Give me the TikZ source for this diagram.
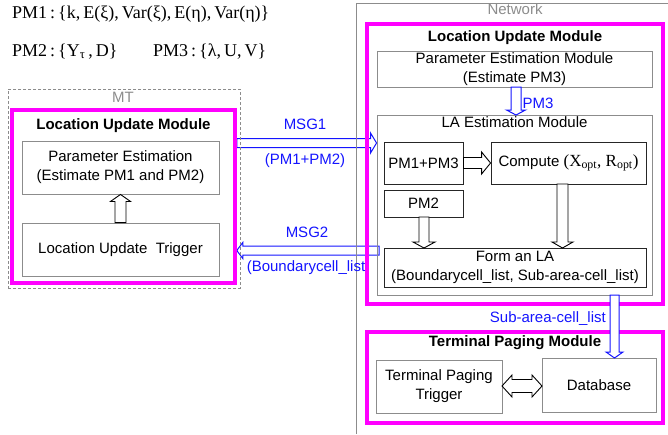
\documentclass[tikz,border=0pt]{standalone}
\usepackage{fontspec}
\setmainfont{Liberation Serif}
\setsansfont{Liberation Sans}
\usetikzlibrary{calc,backgrounds}
\definecolor{boxgray}{RGB}{140,140,140}
\definecolor{lblue}{RGB}{20,20,255}
\definecolor{mag}{RGB}{255,0,255}

\newcommand{\blockarrow}[6]{%
 \coordinate (bahd) at ($(#3)!#6!(#2)$);
 \draw[#1] ($(#2)!#4!90:(#3)$) -- ($(bahd)!#4!90:(#3)$) -- ($(bahd)!#5!90:(#3)$) -- (#3) -- ($(bahd)!#5!-90:(#3)$) -- ($(bahd)!#4!-90:(#3)$) -- ($(#2)!#4!-90:(#3)$) -- cycle;}
\newcommand{\dblockarrow}[6]{%
 \coordinate (bha) at ($(#2)!#6!(#3)$);
 \coordinate (bhb) at ($(#3)!#6!(#2)$);
 \draw[#1] (#2) -- ($(bha)!#5!90:(#3)$) -- ($(bha)!#4!90:(#3)$) -- ($(bhb)!#4!90:(#3)$) -- ($(bhb)!#5!90:(#3)$) -- (#3) -- ($(bhb)!#5!-90:(#3)$) -- ($(bhb)!#4!-90:(#3)$) -- ($(bha)!#4!-90:(#3)$) -- ($(bha)!#5!-90:(#3)$) -- cycle;}

\tikzset{
 every node/.style={font=\sffamily\fontsize{15}{19}\selectfont, inner sep=0pt},
 graybox/.style={draw=boxgray, line width=0.9pt, align=center},
 blackbox/.style={draw=black!85, line width=0.9pt, align=center},
 magbox/.style={draw=mag, line width=3.5pt},
 ttl/.style={font=\sffamily\bfseries\fontsize{15}{19}\selectfont},
 graytxt/.style={text=boxgray},
 bluetxt/.style={text=lblue},
 harrow/.style={draw=black, fill=white, line width=0.9pt},
 barrow/.style={draw=lblue, fill=white, line width=1pt},
 toptxt/.style={anchor=base west, font=\rmfamily\fontsize{18}{20}\selectfont},
}

\begin{document}
\begin{tikzpicture}[x=1pt,y=-1pt]
\useasboundingbox (0,0) rectangle (668,434);

% top definitions
\node[toptxt] (pm1def) at (12,18.3) {PM1\,:\,\{k,\,E(ξ),\,Var(ξ),\,E(η),\,Var(η)\}};
\node[toptxt] (pm2def) at (12,56) {PM2\,:\,\{Y\textsubscript{τ}\,,\,D\}};
\node[toptxt] (pm3def) at (153,56) {PM3\,:\,\{λ,\,U,\,V\}};

% MT side
\node[draw=boxgray, dashed, dash pattern=on 3pt off 2pt, line width=0.8pt, minimum width=232pt, minimum height=199pt] (mt) at (124,188.5) {};
\node[graytxt] (mtlbl) at (123,97) {MT};
\node[magbox, minimum width=223pt, minimum height=173pt] (mtlum) at (123.5,196.5) {};
\node[ttl] (mtlumlbl) at (123.5,126) {Location Update Module};
\node[graybox, minimum width=197pt, minimum height=53pt] (mtpe) at (120.5,167.5) {Parameter Estimation\\(Estimate PM1 and PM2)};
\node[graybox, minimum width=197pt, minimum height=53pt] (mttrig) at (120.5,249.5) {Location Update\ \ Trigger};

% Network side
\draw[draw=boxgray, line width=0.9pt] (668,3) -- (356,3) -- (356,434);
\node[graytxt] (netlbl) at (515,9) {Network};
\node[magbox, minimum width=296pt, minimum height=280pt] (netlum) at (515,164) {};
\node[ttl] (netlumlbl) at (515,37.5) {Location Update Module};
\node[graybox, minimum width=275pt, minimum height=36pt] (pem) at (514.5,69) {Parameter Estimation Module\\(Estimate PM3)};
\node[graybox, minimum width=275pt, minimum height=180pt] (la) at (514.5,205) {};
\node (lalbl) at (514.5,122.5) {LA Estimation Module};
\node[blackbox, minimum width=79pt, minimum height=42pt] (pm13) at (423.5,163) {PM1+PM3};
\node[blackbox, minimum width=155pt, minimum height=42pt] (comp) at (568.5,163) {Compute {\rmfamily\fontsize{17}{19}\selectfont (X\textsubscript{opt}, R\textsubscript{opt})}};
\node[blackbox, minimum width=79pt, minimum height=27pt] (pm2) at (423.5,203.5) {PM2};
\node[blackbox, minimum width=262pt, minimum height=39pt] (form) at (515,267.5) {Form an LA\\(Boundarycell\_list, Sub-area-cell\_list)};

\node[magbox, minimum width=296pt, minimum height=91pt] (tpm) at (515,377.5) {};
\node[ttl] (tpmlbl) at (515,343) {Terminal Paging Module};
\node[graybox, minimum width=126pt, minimum height=53pt] (tpt) at (439,386.5) {Terminal Paging\\Trigger};
\node[graybox, minimum width=114pt, minimum height=54pt] (db) at (599,385) {Database};

% coordinates for connectors
\coordinate (m1a) at (mtlum.east |- 0,143);
\coordinate (m1b) at (la.west |- 0,143);
\coordinate (m2a) at (379,250.5);
\coordinate (m2b) at (mtlum.east |- 0,250.5);
\coordinate (p3a) at (516,87);
\coordinate (p3b) at (516,115);
\coordinate (p2a) at (424,217);
\coordinate (p2b) at (424,248);
\coordinate (cfa) at (562.5,184);
\coordinate (cfb) at (562.5,248);
\coordinate (sba) at (614.5,295);
\coordinate (sbb) at (614.5,358);
\coordinate (dba) at (502,386);
\coordinate (dbb) at (542,386);

\begin{pgfonlayer}{background}
\blockarrow{barrow}{m1a}{m1b}{4.5pt}{10pt}{6pt}
\blockarrow{barrow}{m2a}{m2b}{4.5pt}{8pt}{6pt}
\end{pgfonlayer}
\node[bluetxt] (msg1) at (305,124) {MSG1};
\node[bluetxt] (msg1b) at (305,161) {(PM1+PM2)};
\node[bluetxt] (msg2) at (307,232) {MSG2};
\node[bluetxt] (msg2b) at (306,268) {(Boundarycell\_list};

\blockarrow{harrow}{mttrig.north}{mtpe.south}{5.5pt}{10pt}{7pt}
\blockarrow{barrow}{p3a}{p3b}{5pt}{9.5pt}{5pt}
\node[bluetxt] (pm3lbl) at (538,103) {PM3};
\blockarrow{harrow}{pm13.east}{comp.west}{5.5pt}{11pt}{9pt}
\blockarrow{harrow}{p2a}{p2b}{5pt}{11pt}{6pt}
\blockarrow{harrow}{cfa}{cfb}{5.5pt}{10.5pt}{6pt}
\blockarrow{barrow}{sba}{sbb}{4.5pt}{8.5pt}{6pt}
\node[bluetxt, anchor=east] (sublbl) at (606,319) {Sub-area-cell\_list};
\dblockarrow{harrow}{dba}{dbb}{6.5pt}{11pt}{10pt}
\end{tikzpicture}
\end{document}
